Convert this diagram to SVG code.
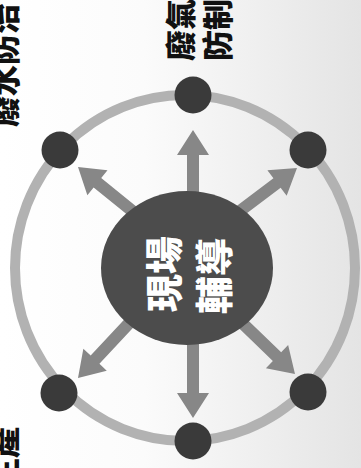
<svg xmlns="http://www.w3.org/2000/svg" xmlns:xlink="http://www.w3.org/1999/xlink" width="361" height="468" viewBox="0 0 361 468">
<defs>
<linearGradient id="bg" x1="0" y1="0" x2="1" y2="0">
<stop offset="0" stop-color="#ffffff"/>
<stop offset="0.4" stop-color="#fbfbfb"/>
<stop offset="1" stop-color="#e4e4e4"/>
</linearGradient>
<path id="arrow" d="M0,0 L-25,-16 L-25,-6 L-140,-6 L-140,6 L-25,6 L-25,16 Z"/>
</defs>
<style>
.ring{fill:none;stroke:#b2b2b2;stroke-width:10}
.node{fill:#3a3a3a}
.arr{fill:#878787}
.hub{fill:#4c4c4c}
.lbl{font-family:"Noto Sans CJK TC","Noto Sans CJK SC",sans-serif;font-weight:900;font-size:31px;fill:#111111;dominant-baseline:central}
.hubt{font-family:"Noto Sans CJK TC","Noto Sans CJK SC",sans-serif;font-weight:900;font-size:38px;fill:#ffffff;dominant-baseline:central;text-anchor:middle}
</style>
<rect x="0" y="0" width="361" height="468" fill="url(#bg)"/>
<g id="ring"><ellipse class="ring" cx="185" cy="268" rx="170" ry="173"/></g>
<g id="connectors">
<use xlink:href="#arrow" class="arr" transform="translate(193,130) rotate(-90)"/>
<use xlink:href="#arrow" class="arr" transform="translate(78,167) rotate(-141)"/>
<use xlink:href="#arrow" class="arr" transform="translate(297,168) rotate(-37)"/>
<use xlink:href="#arrow" class="arr" transform="translate(78,378) rotate(133)"/>
<use xlink:href="#arrow" class="arr" transform="translate(295,374) rotate(44)"/>
<use xlink:href="#arrow" class="arr" transform="translate(193,418) rotate(90)"/>
</g>
<g id="hub">
<ellipse class="hub" cx="187" cy="268" rx="86" ry="77"/>
<text class="hubt" transform="translate(161,274) rotate(-90)">現場</text>
<text class="hubt" transform="translate(211,276) rotate(-90)">輔導</text>
</g>
<g id="node-top"><circle class="node" cx="193" cy="95" r="18.5"/></g>
<g id="node-top-left"><circle class="node" cx="60" cy="150" r="18.5"/></g>
<g id="node-top-right"><circle class="node" cx="308" cy="150" r="18.5"/></g>
<g id="node-bottom-left"><circle class="node" cx="59" cy="393" r="18.5"/></g>
<g id="node-bottom-right"><circle class="node" cx="308" cy="392" r="18.5"/></g>
<g id="node-bottom"><circle class="node" cx="193" cy="441" r="18.5"/></g>
<g id="label-top">
<text class="lbl" text-anchor="middle" transform="translate(178,30) rotate(-90)">廢氣</text>
<text class="lbl" text-anchor="middle" transform="translate(215,30) rotate(-90)">防制</text>
</g>
<g id="label-left"><text class="lbl" text-anchor="start" transform="translate(2,127) rotate(-90)">廢水防治</text></g>
<g id="label-bottom-left"><text class="lbl" text-anchor="start" transform="translate(2,489) rotate(-90)">生產</text></g>
</svg>
